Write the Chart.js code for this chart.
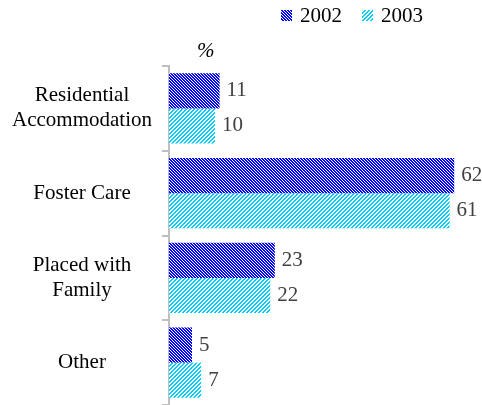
<!DOCTYPE html>
<html>
<head>
<meta charset="utf-8">
<script src="https://cdn.jsdelivr.net/npm/chart.js@4.4.1/dist/chart.umd.min.js"></script>
<style>
  html, body { margin: 0; padding: 0; background: #fff; }
  #wrap { width: 482px; height: 405px; }
</style>
</head>
<body>
<div id="wrap"><canvas id="placementChart"></canvas></div>
<script>
// Data
const categories = [['Residential', 'Accommodation'], 'Foster Care', ['Placed with', 'Family'], 'Other'];
const seriesNames = ['2002', '2003'];
const values2002 = [11, 62, 23, 5];
const values2003 = [10, 61, 22, 7];
const unitLabel = '%';

const serif = "'Liberation Serif', 'Times New Roman', serif";

// Hatched fills: blue with "\" stripes, cyan with "/" stripes
function makePattern(color, period, whiteWidth, upward) {
  const tile = document.createElement('canvas');
  const size = period * 4;
  tile.width = size;
  tile.height = size;
  const c = tile.getContext('2d');
  c.fillStyle = color;
  c.fillRect(0, 0, size, size);
  c.fillStyle = '#ffffff';
  for (let y = 0; y < size; y++) {
    for (let x = 0; x < size; x++) {
      const k = upward ? (x + y) : (x - y + size);
      if (k % period < whiteWidth) c.fillRect(x, y, 1, 1);
    }
  }
  return c.createPattern(tile, 'repeat');
}

const fill2002 = makePattern('#0000ff', 3, 1, false);
const fill2003 = makePattern('#00ccff', 4, 2, true);

// Value labels at the end of each bar
const valueLabels = {
  id: 'valueLabels',
  afterDatasetsDraw(chart) {
    const ctx = chart.ctx;
    ctx.save();
    ctx.font = '21px ' + serif;
    ctx.fillStyle = '#404040';
    ctx.textAlign = 'left';
    ctx.textBaseline = 'middle';
    chart.data.datasets.forEach((ds, i) => {
      chart.getDatasetMeta(i).data.forEach((bar, j) => {
        ctx.fillText(String(ds.data[j]), bar.x + 7, bar.y);
      });
    });
    ctx.restore();
  }
};

// Legend at top right and the unit label above the axis
const headerBits = {
  id: 'headerBits',
  afterDraw(chart) {
    const ctx = chart.ctx;
    const area = chart.chartArea;
    ctx.save();
    ctx.font = '21px ' + serif;
    ctx.textBaseline = 'middle';
    ctx.textAlign = 'left';
    const starts = [281, 362];
    chart.data.datasets.forEach((ds, i) => {
      const x = starts[i];
      ctx.fillStyle = ds.backgroundColor;
      ctx.fillRect(x, 10, 11, 11);
      ctx.fillStyle = '#000';
      ctx.fillText(ds.label, x + 19, 16);
    });
    ctx.font = 'italic 21px ' + serif;
    ctx.textBaseline = 'alphabetic';
    ctx.fillStyle = '#000';
    ctx.fillText(unitLabel, area.left + 28, area.top - 9);
    ctx.restore();
  }
};

const ctx = document.getElementById('placementChart').getContext('2d');
new Chart(ctx, {
  type: 'bar',
  data: {
    labels: categories,
    datasets: [
      { label: seriesNames[0], data: values2002, backgroundColor: fill2002, borderWidth: 0 },
      { label: seriesNames[1], data: values2003, backgroundColor: fill2003, borderWidth: 0 }
    ]
  },
  options: {
    indexAxis: 'y',
    responsive: true,
    maintainAspectRatio: false,
    animation: false,
    layout: { padding: { top: 66, right: 14, left: 0, bottom: 0 } },
    datasets: { bar: { categoryPercentage: 0.83, barPercentage: 1.0 } },
    plugins: {
      legend: { display: false },
      tooltip: { enabled: false }
    },
    scales: {
      x: { display: false, min: 0, max: 65 },
      y: {
        afterFit(scale) {
          scale.width = 169;
          // no extra room for half-labels at the ends
          scale.paddingTop = 0;
          scale.paddingBottom = 0;
        },
        grid: {
          display: true,
          drawOnChartArea: false,
          offset: true,
          tickLength: 7,
          lineWidth: 2,
          color: '#bfbfbf'
        },
        border: { display: true, color: '#bfbfbf', width: 2 },
        ticks: {
          crossAlign: 'center',
          padding: 10,
          color: '#000',
          font: { family: serif, size: 21 }
        }
      }
    }
  },
  plugins: [valueLabels, headerBits]
});
</script>
</body>
</html>
